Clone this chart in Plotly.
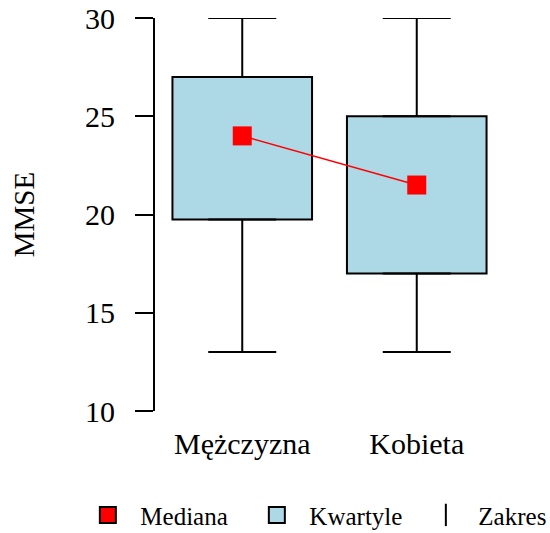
import plotly.graph_objects as go

# Summary statistics of MMSE by sex
groups = ["Mężczyzna", "Kobieta"]
minimum = [13, 13]
q1 = [19.75, 17]
median = [24, 21.5]
q3 = [27, 25]
maximum = [30, 30]

y_ticks = [10, 15, 20, 25, 30]

FONT = "Liberation Serif"
BOX_FILL = "#ADD8E6"
PAD = "\u00a0\u00a0"  # small gap between legend key and label

fig = go.Figure()

# Interquartile boxes
fig.add_trace(go.Bar(
    x=[0, 1],
    y=[b - a for a, b in zip(q1, q3)],
    base=q1,
    width=0.8,
    marker=dict(color=BOX_FILL, line=dict(color="black", width=2)),
    showlegend=False,
    hoverinfo="skip",
))

# Whiskers: upper from Q3 to max, lower from Q1 to min
fig.add_trace(go.Scatter(
    x=[0, 1, 0, 1],
    y=q3 + q1,
    mode="markers",
    marker=dict(opacity=0, size=1),
    error_y=dict(
        type="data",
        symmetric=False,
        array=[mx - b for mx, b in zip(maximum, q3)] + [0, 0],
        arrayminus=[0, 0] + [a - mn for a, mn in zip(q1, minimum)],
        color="black",
        thickness=2,
        width=34,
    ),
    showlegend=False,
    hoverinfo="skip",
))

# Medians joined by a line
fig.add_trace(go.Scatter(
    x=[0, 1],
    y=median,
    mode="lines+markers",
    line=dict(color="red", width=1.6),
    marker=dict(symbol="square", size=19, color="red"),
    showlegend=False,
))

# Legend keys
fig.add_trace(go.Scatter(
    x=[None], y=[None], mode="markers", name=PAD + "Mediana",
    marker=dict(symbol="square", size=16, color="red", line=dict(color="black", width=2)),
))
fig.add_trace(go.Scatter(
    x=[None], y=[None], mode="markers", name=PAD + "Kwartyle",
    marker=dict(symbol="square", size=16, color=BOX_FILL, line=dict(color="black", width=2)),
))
fig.add_trace(go.Scatter(
    x=[None], y=[None], mode="markers", name=PAD + "Zakres",
    marker=dict(symbol="line-ns-open", size=16, color="black", line=dict(color="black", width=2)),
))

fig.update_layout(
    width=550,
    height=533,
    autosize=False,
    margin=dict(l=155, r=0, t=18, b=122, autoexpand=False),
    paper_bgcolor="white",
    plot_bgcolor="white",
    font=dict(family=FONT, color="black", size=30),
    legend=dict(
        orientation="h",
        xref="paper",
        xanchor="left",
        x=-0.17,
        yref="paper",
        yanchor="middle",
        y=-0.265,
        font=dict(family=FONT, size=25),
        itemsizing="trace",
        entrywidth=124,
    ),
)

fig.update_xaxes(
    range=[-0.5, 1.7636],
    tickvals=[0, 1],
    ticktext=groups,
    showline=False,
    showgrid=False,
    zeroline=False,
    ticks="",
    automargin=False,
    ticklabelstandoff=12,
    tickfont=dict(size=30),
)

fig.update_yaxes(
    range=[10, 30],
    tickvals=y_ticks,
    showline=True,
    linecolor="black",
    linewidth=2,
    ticks="outside",
    ticklen=18,
    tickwidth=2,
    tickcolor="black",
    showgrid=False,
    zeroline=False,
    automargin=False,
    ticklabelstandoff=14,
    tickfont=dict(size=30),
    title=dict(text="MMSE", font=dict(size=29), standoff=42),
)

fig.write_html("out.html")
